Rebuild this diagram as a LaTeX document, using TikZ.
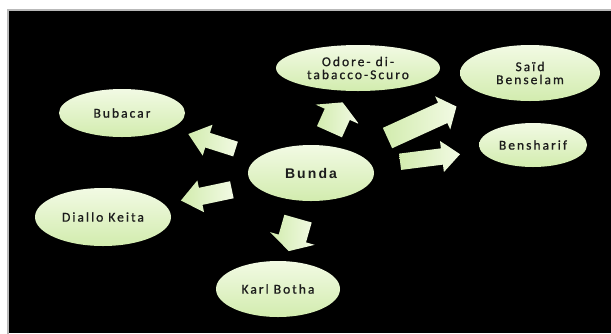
\documentclass[tikz,border=0pt]{standalone}
\usepackage{fontspec}
\usetikzlibrary{shapes.geometric,shapes.arrows,calc}
\newfontfamily\lblfont[LetterSpace=15,FakeBold=0.8]{Carlito}
\newfontfamily\hubfont[LetterSpace=15]{Liberation Sans}
\definecolor{leaftop}{HTML}{F2FAE4}
\definecolor{leafbot}{HTML}{D2ECAE}
\definecolor{inktext}{HTML}{1C1C1C}

\begin{document}
\begin{tikzpicture}
  [x=1pt,y=-1pt,
   every node/.style={ellipse,inner sep=0pt,top color=leaftop,bottom color=leafbot,
     text=inktext,align=center,font=\lblfont\fontsize{13.5}{13}\selectfont},
   blockarrow/.style={single arrow,inner xsep=0pt,left color=leafbot,right color=leaftop}]
  \useasboundingbox (0,0) rectangle (611,333);
  \fill[black] (8,10) rectangle (611,333);
  \draw[gray!55,line width=1.6pt] (7.8,340) |- (620,9.8);

  \node[minimum width=126pt,minimum height=56pt,font=\hubfont\bfseries\fontsize{14}{14}\selectfont] (bunda) at (311,173) {Bunda};
  \node[minimum width=164pt,minimum height=46pt] (odore) at (358,68) {Odore- di-\\tabacco-Scuro};
  \node[minimum width=140pt,minimum height=56pt] (said) at (530,73) {Saïd\\Benselam};
  \node[minimum width=126pt,minimum height=48pt] (bubacar) at (122,113) {Bubacar};
  \node[minimum width=108pt,minimum height=44pt] (bensharif) at (533,145) {Bensharif};
  \node[minimum width=136pt,minimum height=58pt] (diallo) at (103,217) {Diallo Keita};
  \node[minimum width=124pt,minimum height=56pt] (karl) at (278,289) {Karl Botha};

  % target / start / end / shaft / head width / head length
  \foreach \to/\s/\e/\w/\h/\l in {odore/.36/.64/27/47/13, said/.33/.645/22/36/15,
      bensharif/.38/.65/16/31/18, bubacar/.375/.625/15/32/20,
      diallo/.355/.6/17/32/20, karl/.36/.64/28/46/13}
    \path let \p1=($(\to)-(bunda)$), \n1={atan2(\y1,\x1)}, \n2={veclen(\x1,\y1)} in
      node[blockarrow,rotate=\n1,minimum height={(\e-\s)*\n2},inner ysep=\w/2,
        single arrow head extend={(\h-\w)/2},single arrow tip angle={2*atan(\h/2/\l)}]
        at ($(bunda)!{(\s+\e)/2}!(\to)$) {};

\end{tikzpicture}
\end{document}
